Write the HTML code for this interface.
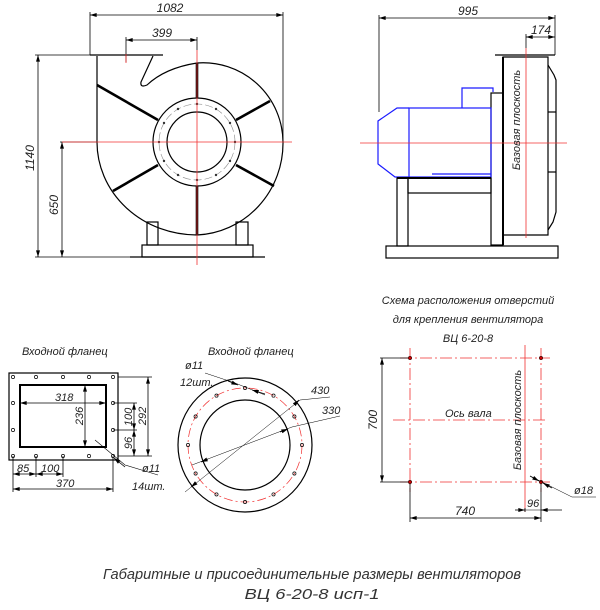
<!DOCTYPE html>
<html><head><meta charset="utf-8"><style>
html,body{margin:0;padding:0;background:#fff;}
svg{display:block;}
text{font-family:"Liberation Sans","DejaVu Sans",sans-serif;font-style:italic;fill:#222;}
</style></head><body>
<svg width="600" height="610" viewBox="0 0 600 610" xmlns="http://www.w3.org/2000/svg">
<defs>
<marker id="a" viewBox="0 0 10 6" refX="10" refY="3" markerWidth="8" markerHeight="4" orient="auto-start-reverse" markerUnits="userSpaceOnUse"><path d="M0,0 L10,3 L0,6z" fill="#000"/></marker>
</defs>
<g stroke="#000" fill="none" stroke-width="0.8">
<!-- LEFT VIEW dims -->
<line x1="90" y1="12" x2="90" y2="55"/><line x1="283" y1="12" x2="283" y2="140"/>
<line x1="90" y1="15" x2="283" y2="15" marker-start="url(#a)" marker-end="url(#a)"/>
<line x1="126" y1="37" x2="126" y2="62"/><line x1="197" y1="37" x2="197" y2="50"/>
<line x1="126" y1="40" x2="197" y2="40" marker-start="url(#a)" marker-end="url(#a)"/>
<line x1="35" y1="55" x2="97" y2="55"/><line x1="35" y1="257" x2="130" y2="257"/>
<line x1="38" y1="55" x2="38" y2="257" marker-start="url(#a)" marker-end="url(#a)"/>
<line x1="60" y1="142" x2="97" y2="142"/>
<line x1="62" y1="142" x2="62" y2="257" marker-start="url(#a)" marker-end="url(#a)"/>
</g>
<g stroke="#000" fill="none" stroke-width="1.2">
<line x1="90" y1="55" x2="163" y2="55"/>
<path d="M153,56 L141,82 Q140,88 147,85 Q165,68 197,63 A80,80 0 0 1 283,142 A90,92 0 0 1 197,235 A100,93 0 0 1 97,142 L97,56"/>
<circle cx="197" cy="142" r="44"/><circle cx="197" cy="142" r="30"/>
<rect x="147" y="222" width="11" height="23"/><rect x="236" y="222" width="12" height="23"/>
<rect x="142" y="245" width="111" height="12"/>
<line x1="130" y1="257" x2="265" y2="257"/>
</g>
<circle cx="197" cy="142" r="38" stroke="#888" stroke-width="0.6" fill="none" stroke-dasharray="8,3"/>
<g fill="#333">
<circle cx="197" cy="104" r="1.2"/><circle cx="216" cy="109" r="1.2"/><circle cx="230" cy="123" r="1.2"/><circle cx="235" cy="142" r="1.2"/><circle cx="230" cy="161" r="1.2"/><circle cx="216" cy="175" r="1.2"/><circle cx="197" cy="180" r="1.2"/><circle cx="178" cy="175" r="1.2"/><circle cx="164" cy="161" r="1.2"/><circle cx="159" cy="142" r="1.2"/><circle cx="164" cy="123" r="1.2"/><circle cx="178" cy="109" r="1.2"/>
</g>
<g stroke="#000" stroke-width="2.6">
<line x1="197" y1="63" x2="197" y2="98"/><line x1="197" y1="186" x2="197" y2="235"/>
<line x1="97" y1="85" x2="158" y2="120"/><line x1="236" y1="120" x2="270" y2="101"/>
<line x1="113" y1="191" x2="158" y2="165"/><line x1="236" y1="165" x2="274" y2="186"/>
</g>
<g stroke="#f03030" stroke-width="0.8">
<line x1="62" y1="142" x2="292" y2="142"/><line x1="197" y1="50" x2="197" y2="265"/>
<line x1="126" y1="54" x2="126" y2="63"/>
</g>
<text x="170" y="12" font-size="12" text-anchor="middle">1082</text>
<text x="152" y="37" font-size="12">399</text>
<text transform="translate(34,158) rotate(-90)" font-size="12" text-anchor="middle">1140</text>
<text transform="translate(58,205) rotate(-90)" font-size="12" text-anchor="middle">650</text>

<!-- RIGHT VIEW -->
<g stroke="#000" fill="none" stroke-width="0.8">
<line x1="379" y1="15" x2="379" y2="112"/><line x1="555" y1="15" x2="555" y2="55"/>
<line x1="379" y1="18" x2="555" y2="18" marker-start="url(#a)" marker-end="url(#a)"/>
<line x1="526" y1="34" x2="526" y2="48"/>
<line x1="526" y1="37" x2="555" y2="37" marker-start="url(#a)" marker-end="url(#a)"/>
</g>
<g stroke="#000" fill="none" stroke-width="1.2">
<line x1="495" y1="55" x2="555" y2="55"/>
<path d="M503,57 L548,57 L548,235 L503,235 Z"/>
<path d="M548,65 L554,75 L556,80 L556,212 L553,222 L548,230"/>
<line x1="548" y1="112" x2="556" y2="112"/><line x1="548" y1="172" x2="556" y2="172"/>
<rect x="491" y="93" width="12" height="152"/>
<rect x="386" y="246" width="172" height="12"/>
<rect x="397" y="178" width="11" height="68"/>
<rect x="408" y="178" width="83" height="15"/>
</g>
<line x1="503" y1="57" x2="503" y2="245" stroke="#000" stroke-width="2"/>
<g stroke="#1a1aff" fill="none" stroke-width="1.2">
<rect x="409" y="108" width="82" height="69"/>
<path d="M409,108 L397,108 L378,121 L378,164 L395,177 L409,177"/>
<path d="M462,108 L462,88 L493,88 L493,92"/>
<line x1="432" y1="174" x2="491" y2="174"/>
</g>
<line x1="397" y1="178" x2="491" y2="178" stroke="#000" stroke-width="2"/>
<g stroke="#f03030" stroke-width="0.8">
<line x1="360" y1="143" x2="567" y2="143"/><line x1="526" y1="48" x2="526" y2="238"/>
</g>
<text x="468" y="15" font-size="12" text-anchor="middle">995</text>
<text x="531" y="34" font-size="12">174</text>
<text transform="translate(520,120) rotate(-90)" font-size="11" text-anchor="middle">Базовая плоскость</text>

<!-- RECT FLANGE -->
<text x="22" y="355" font-size="11">Входной фланец</text>
<g stroke="#000" fill="none" stroke-width="0.8">
<rect x="9" y="373" width="109" height="87" stroke-width="1.2"/>
<rect x="20" y="385" width="86" height="62" stroke-width="2"/>
<line x1="20" y1="403" x2="106" y2="403" marker-start="url(#a)" marker-end="url(#a)"/>
<line x1="85" y1="385" x2="85" y2="447" marker-start="url(#a)" marker-end="url(#a)"/>
<line x1="118" y1="377" x2="152" y2="377"/><line x1="118" y1="456" x2="152" y2="456"/>
<line x1="113" y1="403" x2="137" y2="403"/><line x1="113" y1="430" x2="137" y2="430"/>
<line x1="134" y1="403" x2="134" y2="430" marker-start="url(#a)" marker-end="url(#a)"/>
<line x1="134" y1="430" x2="134" y2="456" marker-start="url(#a)" marker-end="url(#a)"/>
<line x1="148" y1="377" x2="148" y2="456" marker-start="url(#a)" marker-end="url(#a)"/>
<line x1="13" y1="456" x2="13" y2="492"/><line x1="36" y1="456" x2="36" y2="477"/><line x1="63" y1="456" x2="63" y2="477"/><line x1="113" y1="456" x2="113" y2="492"/>
<line x1="13" y1="474" x2="36" y2="474" marker-start="url(#a)" marker-end="url(#a)"/>
<line x1="36" y1="474" x2="63" y2="474" marker-start="url(#a)" marker-end="url(#a)"/>
<line x1="13" y1="489" x2="113" y2="489" marker-start="url(#a)" marker-end="url(#a)"/>
<path d="M95,440 L125,465 L158,475" stroke-width="0.6"/>
<line x1="125" y1="467" x2="114" y2="458" marker-end="url(#a)"/>
<g stroke-width="0.7">
<circle cx="13" cy="377" r="1.6"/><circle cx="36" cy="377" r="1.6"/><circle cx="63" cy="377" r="1.6"/><circle cx="89" cy="377" r="1.6"/><circle cx="113" cy="377" r="1.6"/>
<circle cx="13" cy="456" r="1.6"/><circle cx="36" cy="456" r="1.6"/><circle cx="63" cy="456" r="1.6"/><circle cx="89" cy="456" r="1.6"/><circle cx="113" cy="456" r="1.6"/>
<circle cx="13" cy="403" r="1.6"/><circle cx="13" cy="430" r="1.6"/><circle cx="113" cy="403" r="1.6"/><circle cx="113" cy="430" r="1.6"/>
</g>
</g>
<text x="55" y="401" font-size="11">318</text>
<text transform="translate(83,416) rotate(-90)" font-size="11" text-anchor="middle">236</text>
<text transform="translate(132,417) rotate(-90)" font-size="11" text-anchor="middle">100</text>
<text transform="translate(132,443) rotate(-90)" font-size="11" text-anchor="middle">96</text>
<text transform="translate(146,416) rotate(-90)" font-size="11" text-anchor="middle">292</text>
<text x="17" y="472" font-size="11">85</text>
<text x="41" y="472" font-size="11">100</text>
<text x="56" y="487" font-size="11">370</text>
<text x="142" y="472" font-size="11">ø11</text>
<text x="132" y="490" font-size="11">14шт.</text>

<!-- ROUND FLANGE -->
<text x="208" y="355" font-size="11">Входной фланец</text>
<g stroke="#000" fill="none">
<circle cx="245" cy="445" r="67" stroke-width="1.2"/>
<circle cx="245" cy="445" r="45" stroke-width="1.2"/>
</g>
<circle cx="245" cy="445" r="57" stroke="#f03030" stroke-width="0.7" fill="none" stroke-dasharray="9,3,2,3"/>
<g stroke="#000" fill="none" stroke-width="0.7">
<circle cx="245" cy="388" r="1.6"/><circle cx="273.5" cy="395.6" r="1.6"/><circle cx="294.4" cy="416.5" r="1.6"/><circle cx="302" cy="445" r="1.6"/><circle cx="294.4" cy="473.5" r="1.6"/><circle cx="273.5" cy="494.4" r="1.6"/><circle cx="245" cy="502" r="1.6"/><circle cx="216.5" cy="494.4" r="1.6"/><circle cx="195.6" cy="473.5" r="1.6"/><circle cx="188" cy="445" r="1.6"/><circle cx="195.6" cy="416.5" r="1.6"/><circle cx="216.5" cy="395.6" r="1.6"/>
<line x1="185" y1="492" x2="300" y2="400" stroke-width="0.5"/><line x1="300" y1="400" x2="330" y2="397" stroke-width="0.5"/>
<line x1="296" y1="403" x2="299" y2="400" marker-end="url(#a)"/>
<line x1="196" y1="483" x2="191" y2="487" marker-end="url(#a)"/>
<line x1="192" y1="465" x2="292" y2="427" stroke-width="0.5"/><line x1="292" y1="427" x2="340" y2="416" stroke-width="0.5"/>
<line x1="280" y1="432" x2="288" y2="429" marker-end="url(#a)"/>
<line x1="208" y1="459" x2="201" y2="462" marker-end="url(#a)"/>
<path d="M205,373 L235,383 L265,395" stroke-width="0.5"/>
<line x1="228" y1="381" x2="238" y2="385" marker-end="url(#a)"/>
<line x1="265" y1="394" x2="252" y2="390" marker-end="url(#a)"/>
</g>
<text x="185" y="369" font-size="11">ø11</text>
<text x="180" y="386" font-size="11">12шт.</text>
<text x="311" y="394" font-size="11">430</text>
<text x="322" y="414" font-size="11">330</text>

<!-- HOLE SCHEME -->
<text x="468" y="304" font-size="11" text-anchor="middle">Схема расположения отверстий</text>
<text x="468" y="323" font-size="11" text-anchor="middle">для крепления вентилятора</text>
<text x="468" y="342" font-size="11" text-anchor="middle">ВЦ 6-20-8</text>
<g stroke="#f03030" stroke-width="0.8" fill="none" stroke-dasharray="12,3,2,3">
<line x1="400" y1="358" x2="550" y2="358"/><line x1="400" y1="482" x2="550" y2="482"/>
<line x1="393" y1="420" x2="548" y2="420"/>
<line x1="410" y1="348" x2="410" y2="492"/><line x1="541" y1="348" x2="541" y2="492"/>
</g>
<line x1="525" y1="345" x2="525" y2="512" stroke="#f03030" stroke-width="0.8"/>
<g fill="#c00" stroke="#000" stroke-width="0.5">
<circle cx="410" cy="358" r="1.8"/><circle cx="541" cy="358" r="1.8"/><circle cx="410" cy="482" r="1.8"/><circle cx="541" cy="482" r="1.8"/>
</g>
<g stroke="#000" fill="none" stroke-width="0.8">
<line x1="380" y1="358" x2="408" y2="358"/><line x1="380" y1="482" x2="408" y2="482"/>
<line x1="382" y1="358" x2="382" y2="482" marker-start="url(#a)" marker-end="url(#a)"/>
<line x1="410" y1="484" x2="410" y2="522"/><line x1="541" y1="484" x2="541" y2="522"/>
<line x1="410" y1="518" x2="541" y2="518" marker-start="url(#a)" marker-end="url(#a)"/>
<line x1="525" y1="508" x2="525" y2="512"/>
<line x1="515" y1="510" x2="525" y2="510" marker-end="url(#a)"/>
<line x1="562" y1="510" x2="541" y2="510" marker-end="url(#a)"/>
<line x1="541" y1="510" x2="525" y2="510" stroke-width="0.5"/>
<path d="M530,476 L572,497 L596,497" stroke-width="0.5"/>
<line x1="530" y1="476" x2="539" y2="481" marker-end="url(#a)"/>
<line x1="552" y1="488" x2="543" y2="483" marker-end="url(#a)"/>
</g>
<text transform="translate(377,420) rotate(-90)" font-size="12" text-anchor="middle">700</text>
<text x="465" y="515" font-size="12" text-anchor="middle">740</text>
<text x="527" y="507" font-size="11">96</text>
<text x="574" y="494" font-size="11">ø18</text>
<text x="445" y="417" font-size="11">Ось вала</text>
<text transform="translate(521,420) rotate(-90)" font-size="11" text-anchor="middle">Базовая плоскость</text>

<text x="312" y="579" font-size="15" text-anchor="middle" textLength="418" lengthAdjust="spacingAndGlyphs" style="fill:#333">Габаритные и присоединительные размеры вентиляторов</text>
<text x="312" y="599" font-size="15" text-anchor="middle" textLength="135" lengthAdjust="spacingAndGlyphs" style="fill:#333">ВЦ 6-20-8 исп-1</text>
</svg>
</body></html>
